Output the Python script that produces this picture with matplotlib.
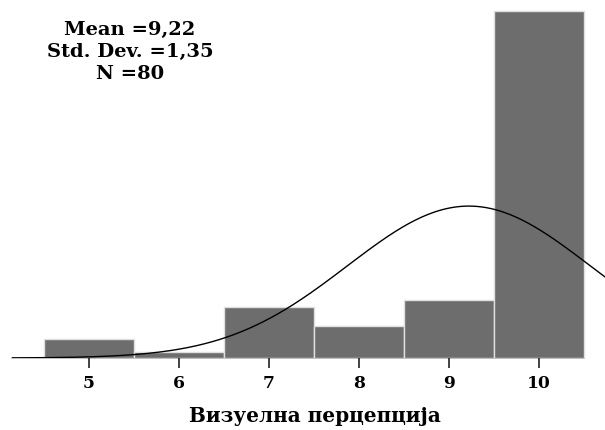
import numpy as np
import matplotlib
matplotlib.use("Agg")
import matplotlib.pyplot as plt

# оцене и број испитаника по оцени
ocene = [5, 6, 7, 8, 9, 10]
broj = [3, 1, 8, 5, 9, 54]
mean = 9.22
sd = 1.35
n = 80
tekst_stat = "Mean =9,22\nStd. Dev. =1,35\nN =80"
naslov_x = "Визуелна перцепција"

plt.rcParams["font.family"] = ["DejaVu Serif"]
plt.rcParams["font.weight"] = "bold"

fig = plt.figure(figsize=(6.05, 4.31), dpi=100)
ax = fig.add_axes([12 / 605, 72 / 431, 593 / 605, 359 / 431])

ax.bar(ocene, broj, width=1.0, color="#6d6d6d", edgecolor="#e0e0e0", linewidth=1.0, zorder=2)

xmin, xmax = 4.144, 10.733
ax.set_xlim(xmin, xmax)
ax.set_ylim(0, 54 * 359 / 347)

# базна линија испод стубића
ax.plot([xmin, 10.5], [0, 0], color="#b4b4b4", linewidth=1.2, zorder=1, clip_on=False)

# нормална крива
xs = np.linspace(xmin, xmax, 400)
ys = n * 1.0 / (sd * np.sqrt(2 * np.pi)) * np.exp(-0.5 * ((xs - mean) / sd) ** 2)
ax.plot(xs, ys, color="black", linewidth=1.0, zorder=3)

for s in ax.spines.values():
    s.set_visible(False)
ax.set_yticks([])
ax.set_xticks(ocene)
ax.set_xticklabels([str(o) for o in ocene], fontsize=12.3, fontweight="bold")
ax.tick_params(axis="x", length=7.5, width=1.2, color="#222222", pad=4)
ax.set_xlabel(naslov_x, fontsize=14.4, fontweight="bold")
ax.xaxis.set_label_coords((315 - 12) / 593, -47 / 359)

ax.text((130 - 12) / 593, 1 - 21 / 359, tekst_stat, transform=ax.transAxes,
        ha="center", va="top", fontsize=14, fontweight="bold", linespacing=1.3)

fig.savefig("out.png", dpi=100)
